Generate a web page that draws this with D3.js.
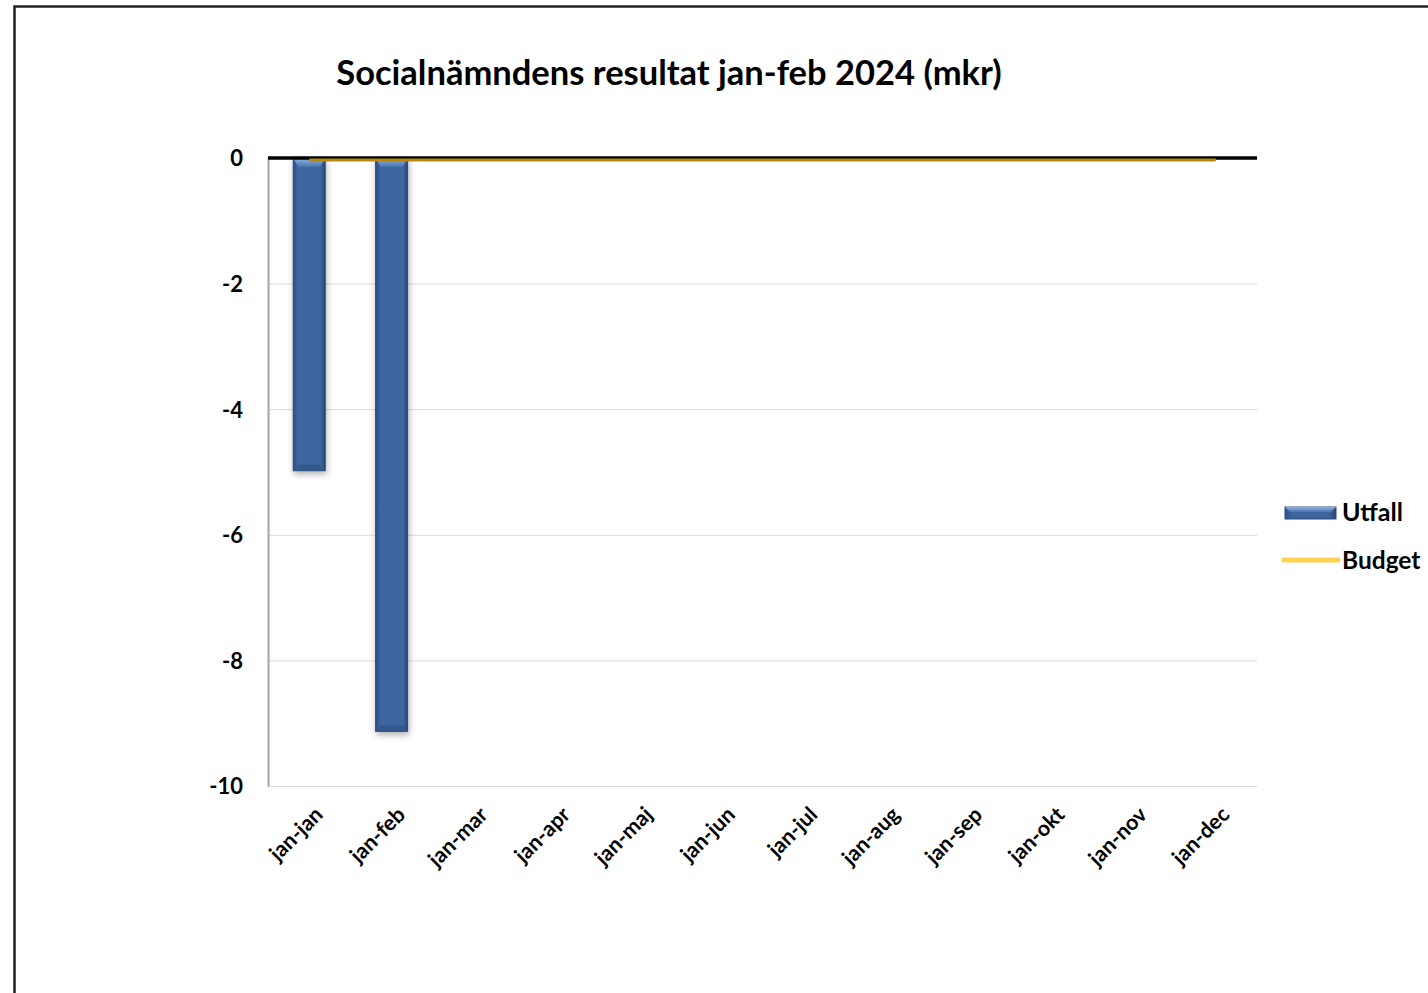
<!DOCTYPE html>
<html>
<head>
<meta charset="utf-8">
<script src="https://cdn.jsdelivr.net/npm/d3@7"></script>
<style>
  html, body { margin: 0; padding: 0; background: #fff; }
  svg { display: block; font-family: Lato, "Open Sans", "Liberation Sans", sans-serif; }
</style>
</head>
<body>
<svg id="chart" width="1428" height="993"></svg>
<script>
// Period labels (cumulative from January)
const categories = ["jan-jan", "jan-feb", "jan-mar", "jan-apr", "jan-maj", "jan-jun",
                    "jan-jul", "jan-aug", "jan-sep", "jan-okt", "jan-nov", "jan-dec"];
// Outcome (mkr); only the first two periods are reported
const utfall = [-4.98, -9.13];
// Budget (mkr) for each period
const budget = [0, 0, 0, 0, 0, 0, 0, 0, 0, 0, 0, 0];
// Y tick values
const yTicks = [0, -2, -4, -6, -8, -10];

const title = "Socialnämndens resultat jan-feb 2024 (mkr)";

const svg = d3.select("#chart");
const margin = { left: 268, right: 1257, top: 158, bottom: 786 };

// Outer frame
svg.append("rect")
  .attr("x", 14.5).attr("y", 6.5)
  .attr("width", 1500).attr("height", 1100)
  .attr("fill", "none").attr("stroke", "#222").attr("stroke-width", 2.5);

const defs = svg.append("defs");
const grad = defs.append("linearGradient").attr("id", "barGrad")
  .attr("x1", "0").attr("x2", "1").attr("y1", "0").attr("y2", "0");
grad.append("stop").attr("offset", "0%").attr("stop-color", "#2c4f80");
grad.append("stop").attr("offset", "14%").attr("stop-color", "#3d65a0");
grad.append("stop").attr("offset", "86%").attr("stop-color", "#3d65a0");
grad.append("stop").attr("offset", "100%").attr("stop-color", "#274672");

const topGrad = defs.append("linearGradient").attr("id", "topGrad")
  .attr("x1", "0").attr("x2", "0").attr("y1", "0").attr("y2", "1");
topGrad.append("stop").attr("offset", "0%").attr("stop-color", "#8fb4e6");
topGrad.append("stop").attr("offset", "100%").attr("stop-color", "#4a74ad");

const shadow = defs.append("filter").attr("id", "shadow")
  .attr("x", "-30%").attr("y", "-5%").attr("width", "160%").attr("height", "115%");
shadow.append("feDropShadow").attr("dx", 1).attr("dy", 3).attr("stdDeviation", 3)
  .attr("flood-color", "#000").attr("flood-opacity", 0.3);

const x = d3.scaleBand().domain(categories).range([margin.left, margin.right]);
const y = d3.scaleLinear().domain([-10, 0]).range([margin.bottom, margin.top]);

// Horizontal gridlines
svg.append("g").selectAll("line")
  .data(yTicks.filter(d => d !== 0))
  .join("line")
  .attr("x1", margin.left).attr("x2", margin.right)
  .attr("y1", d => y(d) + 0.5).attr("y2", d => y(d) + 0.5)
  .attr("stroke", "#dadada").attr("stroke-width", 1);

// Y axis (plain hyphen for negatives)
const yAxis = d3.axisLeft(y).tickValues(yTicks).tickSize(0).tickPadding(25)
  .tickFormat(d => String(d));
const gy = svg.append("g").attr("transform", `translate(${margin.left},0)`).call(yAxis);
gy.select(".domain").attr("stroke", "#a6a6a6").attr("stroke-width", 2);
gy.selectAll("text")
  .attr("font-size", 22).attr("font-weight", "bold").attr("fill", "#000")
  .attr("font-family", "Lato, 'Open Sans', sans-serif")
  .attr("dy", "0.36em");

// Bars
const barW = 32;
const bars = svg.append("g");
utfall.forEach((v, i) => {
  const cx = x(categories[i]) + x.bandwidth() / 2;
  const x0 = cx - barW / 2;
  const y0 = y(0), y1 = y(v);
  const g = bars.append("g").attr("filter", "url(#shadow)");
  g.append("rect").attr("x", x0).attr("y", y0).attr("width", barW).attr("height", y1 - y0)
    .attr("fill", "url(#barGrad)").attr("stroke", "#2a4a78").attr("stroke-width", 1);
  // top bevel highlight
  g.append("path")
    .attr("d", `M${x0},${y0} L${x0 + barW},${y0} L${x0 + barW - 5},${y0 + 9} L${x0 + 5},${y0 + 9} Z`)
    .attr("fill", "url(#topGrad)");
  // bottom bevel
  g.append("path")
    .attr("d", `M${x0},${y1} L${x0 + barW},${y1} L${x0 + barW - 5},${y1 - 6} L${x0 + 5},${y1 - 6} Z`)
    .attr("fill", "#36598c");
});

// Zero line
svg.append("line")
  .attr("x1", margin.left).attr("x2", margin.right)
  .attr("y1", y(0)).attr("y2", y(0))
  .attr("stroke", "#000").attr("stroke-width", 3.5);

// Budget line
const line = d3.line()
  .x((d, i) => x(categories[i]) + x.bandwidth() / 2)
  .y(d => y(d) + 2);
svg.append("path").datum(budget)
  .attr("d", line)
  .attr("fill", "none").attr("stroke", "#b8890e").attr("stroke-width", 3);

// X axis labels
const xAxis = d3.axisBottom(x).tickSize(0).tickPadding(0);
const gx = svg.append("g").attr("transform", `translate(0,${margin.bottom})`).call(xAxis);
gx.select(".domain").remove();
gx.selectAll("text")
  .attr("font-size", 21.5).attr("font-weight", "bold").attr("fill", "#000")
  .attr("font-family", "Lato, 'Open Sans', sans-serif")
  .attr("text-anchor", "end")
  .attr("dy", 0)
  .attr("transform", "translate(15,30) rotate(-45)");

// Title
svg.append("text")
  .attr("x", 669).attr("y", 85)
  .attr("text-anchor", "middle")
  .attr("font-size", 34.5).attr("font-weight", "bold").attr("fill", "#000")
  .text(title);

// Legend
const lg = svg.append("g");
lg.append("rect").attr("x", 1285).attr("y", 507).attr("width", 51).attr("height", 12)
  .attr("fill", "url(#barGrad)").attr("stroke", "#2a4a78").attr("stroke-width", 1);
lg.append("path").attr("d", "M1285,507 L1336,507 L1331,512 L1290,512 Z").attr("fill", "url(#topGrad)");
lg.append("text").attr("x", 1342).attr("y", 521)
  .attr("font-size", 25).attr("font-weight", "bold").text("Utfall");
lg.append("line").attr("x1", 1284).attr("x2", 1338).attr("y1", 560).attr("y2", 560)
  .attr("stroke", "#ffd34f").attr("stroke-width", 5).attr("stroke-linecap", "round");
lg.append("text").attr("x", 1342).attr("y", 569)
  .attr("font-size", 24.5).attr("font-weight", "bold").text("Budget");
</script>
</body>
</html>
